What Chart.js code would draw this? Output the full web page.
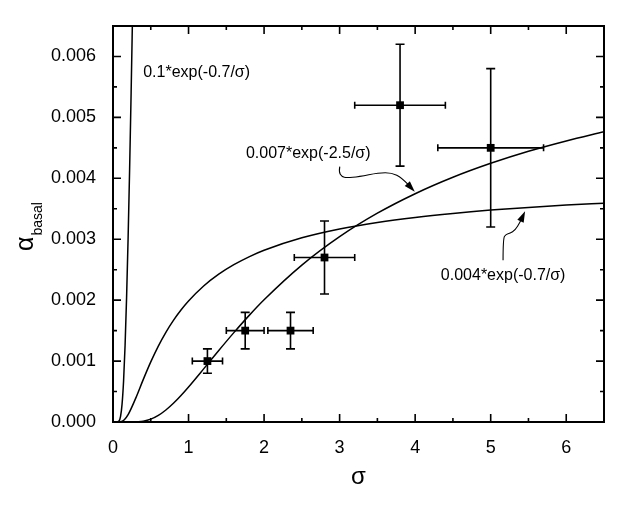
<!DOCTYPE html>
<html>
<head>
<meta charset="utf-8">
<script src="https://cdn.jsdelivr.net/npm/chart.js@4.4.1/dist/chart.umd.min.js"></script>
<style>
  html, body { margin: 0; padding: 0; background: #fff; }
  canvas { display: block; }
</style>
</head>
<body>
<canvas id="chart" width="634" height="505"></canvas>
<script>
// measured points with error bars
const sigma = [1.25, 1.75, 2.35, 2.8, 3.8, 5.0];
const alphaBasal = [0.0010, 0.0015, 0.0015, 0.0027, 0.0052, 0.0045];
const sigmaErr = [0.2, 0.25, 0.3, 0.4, 0.6, 0.7];
const alphaErr = [0.0002, 0.0003, 0.0003, 0.0006, 0.0010, 0.0013];

// curve: 0.1*exp(-0.7/sigma)
const curveASigma = [0.05, 0.08, 0.10, 0.12, 0.14, 0.16, 0.18, 0.20, 0.22, 0.24, 0.26];
const curveA = [0.0, 0.000016, 0.000091, 0.000293, 0.000674, 0.00126, 0.00205, 0.00302, 0.00415, 0.00541, 0.00677];

// 0.004*exp(-0.7/sigma)
const curveBSigma = [0.05, 0.1, 0.15, 0.2, 0.3, 0.4, 0.5, 0.6, 0.7, 0.8, 0.9, 1.0, 1.2, 1.4, 1.6, 1.8, 2.0, 2.5, 3.0, 3.5, 4.0, 4.5, 5.0, 5.5, 6.0, 6.5];
const curveB = [0.0, 0.0000036, 0.000038, 0.000121, 0.000388, 0.000695, 0.000986, 0.001246, 0.001472, 0.001668, 0.001838, 0.001986, 0.002232, 0.002426, 0.002582, 0.002711, 0.002819, 0.003023, 0.003168, 0.003275, 0.003358, 0.003424, 0.003478, 0.003522, 0.003560, 0.003592];

// 0.007*exp(-2.5/sigma)
const curveCSigma = [0.3, 0.4, 0.5, 0.6, 0.7, 0.8, 0.9, 1.0, 1.2, 1.4, 1.6, 1.8, 2.0, 2.5, 3.0, 3.5, 4.0, 4.5, 5.0, 5.5, 6.0, 6.5];
const curveC = [0.0000017, 0.0000135, 0.000047, 0.0001085, 0.000197, 0.000307, 0.000435, 0.000575, 0.000872, 0.001174, 0.001467, 0.001746, 0.002006, 0.002575, 0.003042, 0.003427, 0.003747, 0.004017, 0.004246, 0.004444, 0.004614, 0.004765];

const xTicks = [0, 1, 2, 3, 4, 5, 6];
const xMinorTicks = [0.5, 1.5, 2.5, 3.5, 4.5, 5.5];
const yTicks = [0, 0.001, 0.002, 0.003, 0.004, 0.005, 0.006];
const yMinorTicks = [0.0005, 0.0015, 0.0025, 0.0035, 0.0045, 0.0055];

const curveLabels = ['0.1*exp(-0.7/σ)', '0.007*exp(-2.5/σ)', '0.004*exp(-0.7/σ)'];
const xTitle = 'σ';
const yTitle = 'α';
const yTitleSub = 'basal';

const FONT = '"Liberation Sans", Arial, sans-serif';

const toPoints = (xs, ys) => xs.map((v, i) => ({ x: v, y: ys[i] }));

const curveStyle = {
  showLine: true,
  borderColor: '#000',
  borderWidth: 1.5,
  pointRadius: 0,
  cubicInterpolationMode: 'monotone',
  clip: 0
};

// inward ticks, frame, error bars, labels and arrows
const decor = {
  id: 'decor',
  afterDatasetsDraw(chart) {
    const { ctx, chartArea: a, scales: { x, y } } = chart;
    ctx.save();
    ctx.strokeStyle = '#000';

    // error bars
    ctx.lineWidth = 1.6;
    sigma.forEach((s, i) => {
      const px = x.getPixelForValue(s);
      const py = y.getPixelForValue(alphaBasal[i]);
      const x0 = x.getPixelForValue(s - sigmaErr[i]);
      const x1 = x.getPixelForValue(s + sigmaErr[i]);
      const y0 = y.getPixelForValue(alphaBasal[i] - alphaErr[i]);
      const y1 = y.getPixelForValue(alphaBasal[i] + alphaErr[i]);
      ctx.beginPath();
      ctx.moveTo(x0, py); ctx.lineTo(x1, py);
      ctx.moveTo(x0, py - 3.5); ctx.lineTo(x0, py + 3.5);
      ctx.moveTo(x1, py - 3.5); ctx.lineTo(x1, py + 3.5);
      ctx.moveTo(px, y0); ctx.lineTo(px, y1);
      ctx.moveTo(px - 4.5, y0); ctx.lineTo(px + 4.5, y0);
      ctx.moveTo(px - 4.5, y1); ctx.lineTo(px + 4.5, y1);
      ctx.stroke();
    });

    // frame
    ctx.lineWidth = 2;
    ctx.strokeRect(a.left, a.top, a.right - a.left, a.bottom - a.top);

    // ticks pointing inward on all four sides
    ctx.lineWidth = 1.6;
    ctx.beginPath();
    const xt = (v, len) => {
      const p = x.getPixelForValue(v);
      ctx.moveTo(p, a.bottom); ctx.lineTo(p, a.bottom - len);
      ctx.moveTo(p, a.top); ctx.lineTo(p, a.top + len);
    };
    const yt = (v, len) => {
      const p = y.getPixelForValue(v);
      ctx.moveTo(a.left, p); ctx.lineTo(a.left + len, p);
      ctx.moveTo(a.right, p); ctx.lineTo(a.right - len, p);
    };
    xTicks.forEach(v => xt(v, 8));
    xMinorTicks.forEach(v => xt(v, 4));
    yTicks.forEach(v => yt(v, 8));
    yMinorTicks.forEach(v => yt(v, 4));
    ctx.stroke();

    // curve labels
    ctx.fillStyle = '#000';
    ctx.font = '16px ' + FONT;
    ctx.textBaseline = 'middle';
    ctx.textAlign = 'left';
    ctx.fillText(curveLabels[0], x.getPixelForValue(0.40), y.getPixelForValue(0.00573));
    ctx.fillText(curveLabels[1], x.getPixelForValue(1.76), y.getPixelForValue(0.00440));
    ctx.fillText(curveLabels[2], x.getPixelForValue(4.34), y.getPixelForValue(0.00241));

    // curly arrows (offsets in px from the arrow tip)
    const arrow = (tx, ty, pts) => {
      const ox = x.getPixelForValue(tx);
      const oy = y.getPixelForValue(ty);
      ctx.lineWidth = 1.1;
      ctx.beginPath();
      ctx.moveTo(ox + pts[0][0], oy + pts[0][1]);
      for (let i = 1; i < pts.length - 1; i++) {
        const mx = (pts[i][0] + pts[i + 1][0]) / 2;
        const my = (pts[i][1] + pts[i + 1][1]) / 2;
        ctx.quadraticCurveTo(ox + pts[i][0], oy + pts[i][1], ox + mx, oy + my);
      }
      const prev = pts[pts.length - 2];
      const ang = Math.atan2(-prev[1], -prev[0]);
      const bx = ox - Math.cos(ang) * 9;
      const by = oy - Math.sin(ang) * 9;
      ctx.lineTo(bx, by);
      ctx.stroke();
      ctx.beginPath();
      ctx.moveTo(ox, oy);
      ctx.lineTo(ox - Math.cos(ang) * 11 + Math.sin(ang) * 3.5, oy - Math.sin(ang) * 11 - Math.cos(ang) * 3.5);
      ctx.lineTo(ox - Math.cos(ang) * 11 - Math.sin(ang) * 3.5, oy - Math.sin(ang) * 11 + Math.cos(ang) * 3.5);
      ctx.closePath();
      ctx.fill();
    };
    arrow(3.995, 0.00378, [[-75, -25], [-76, -20], [-73, -15], [-68, -14], [-56, -15], [-36, -19], [-23, -19], [-13, -14], [0, 0]]);
    arrow(5.455, 0.00346, [[-22, 49], [-22, 27], [-19, 23], [-15, 22], [-10, 19], [-5, 11], [0, 0]]);

    // axis titles
    ctx.textBaseline = 'alphabetic';
    ctx.textAlign = 'center';
    ctx.font = '24px ' + FONT;
    ctx.fillText(xTitle, (a.left + a.right) / 2, 484);

    ctx.save();
    ctx.rotate(-Math.PI / 2);
    ctx.textAlign = 'left';
    ctx.font = '25px ' + FONT;
    const wA = ctx.measureText(yTitle).width;
    ctx.font = '14px ' + FONT;
    const wB = ctx.measureText(yTitleSub).width;
    const cy = (a.top + a.bottom) / 2 + 3;
    const start = -(cy + (wA + wB) / 2);
    ctx.font = '25px ' + FONT;
    ctx.fillText(yTitle, start, 33);
    ctx.font = '14px ' + FONT;
    ctx.fillText(yTitleSub, start + wA + 1, 42);
    ctx.restore();

    ctx.restore();
  }
};

new Chart(document.getElementById('chart'), {
  type: 'scatter',
  data: {
    datasets: [
      Object.assign({ data: toPoints(curveASigma, curveA) }, curveStyle),
      Object.assign({ data: toPoints(curveBSigma, curveB) }, curveStyle),
      Object.assign({ data: toPoints(curveCSigma, curveC) }, curveStyle),
      {
        data: toPoints(sigma, alphaBasal),
        pointStyle: 'rect',
        pointRadius: 5.5,
        backgroundColor: '#000',
        borderColor: '#000',
        borderWidth: 0,
        showLine: false
      }
    ]
  },
  options: {
    responsive: false,
    animation: false,
    layout: { padding: { top: 26, right: 30, left: 0, bottom: 0 } },
    plugins: { legend: { display: false }, tooltip: { enabled: false } },
    scales: {
      x: {
        type: 'linear',
        min: 0,
        max: 6.5,
        grid: { display: false },
        border: { display: false },
        afterBuildTicks: s => { s.ticks = xTicks.map(v => ({ value: v })); },
        afterFit: s => { s.height = 83; },
        ticks: {
          color: '#000',
          padding: 7,
          font: { family: FONT, size: 18 },
          callback: v => String(v)
        }
      },
      y: {
        type: 'linear',
        min: 0,
        max: 0.0065,
        grid: { display: false },
        border: { display: false },
        afterBuildTicks: s => { s.ticks = yTicks.map(v => ({ value: v })); },
        afterFit: s => { s.width = 113; },
        ticks: {
          color: '#000',
          padding: 9,
          font: { family: FONT, size: 18 },
          callback: v => v.toFixed(3)
        }
      }
    }
  },
  plugins: [decor]
});
</script>
</body>
</html>
